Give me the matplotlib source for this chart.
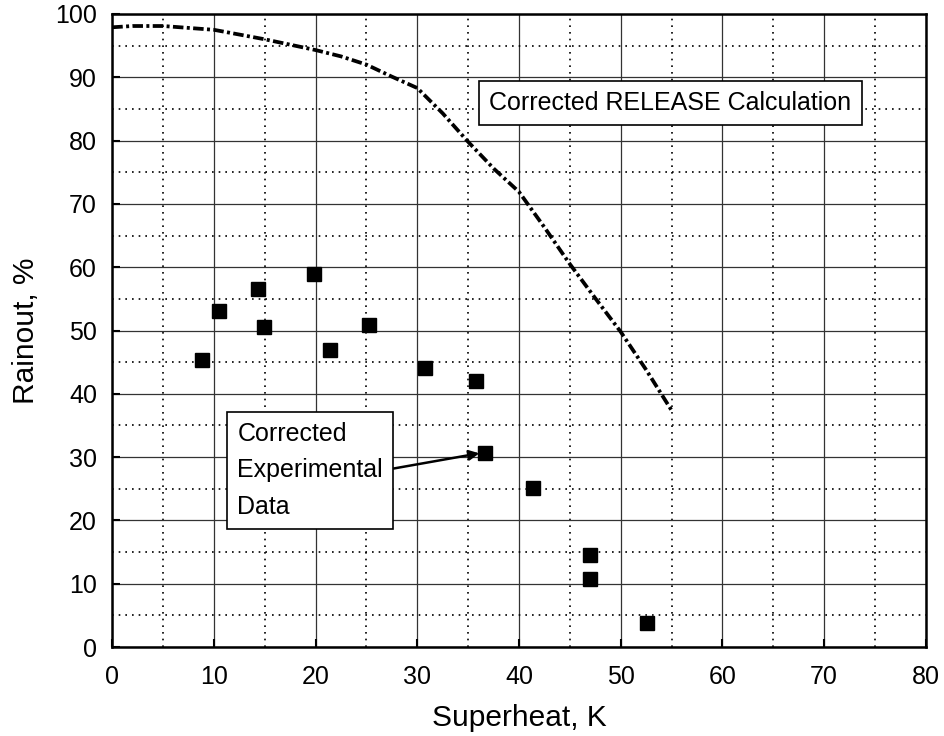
import matplotlib.pyplot as plt

calc_superheat = [0, 2, 5, 10, 15, 20, 22.5, 25, 27.5, 30, 32.5, 35, 37.5, 40,
                  42.5, 45, 47.5, 50, 52.5, 55]
calc_rainout = [97.9, 98.1, 98.1, 97.5, 96.0, 94.3, 93.3, 92.0, 90.1, 88.3, 84.3,
                79.8, 75.6, 71.9, 66.3, 60.5, 55.1, 49.8, 43.8, 37.4]

exp_superheat = [8.8, 10.5, 14.3, 14.9, 19.8, 21.4, 25.2, 30.8, 35.8, 36.7, 41.4, 47.0, 47.0, 52.6]
exp_rainout = [45.3, 53.1, 56.5, 50.5, 58.9, 46.9, 50.9, 44.1, 42.1, 30.7, 25.1, 14.5, 10.7, 3.8]

x_ticks = [0, 10, 20, 30, 40, 50, 60, 70, 80]
y_ticks = [0, 10, 20, 30, 40, 50, 60, 70, 80, 90, 100]


def main():
    plt.rcParams['font.family'] = ['Liberation Sans', 'DejaVu Sans']
    fig = plt.figure(figsize=(9.45, 7.36), dpi=100)
    ax = fig.add_axes([0.1188, 0.1209, 0.8608, 0.8601])

    ax.set_xlim(0, 80)
    ax.set_ylim(0, 100)
    ax.set_xticks(x_ticks)
    ax.set_yticks(y_ticks)
    ax.set_xticks([5, 15, 25, 35, 45, 55, 65, 75], minor=True)
    ax.set_yticks([5, 15, 25, 35, 45, 55, 65, 75, 85, 95], minor=True)

    ax.grid(True, which='major', color='#333333', linewidth=0.9)
    ax.grid(True, which='minor', color='black', linewidth=1.2, linestyle=(0, (1, 3)))
    ax.set_axisbelow(True)

    for spine in ax.spines.values():
        spine.set_linewidth(1.8)
    ax.tick_params(which='major', direction='in', length=6, width=1.5, labelsize=18)
    ax.tick_params(axis='x', which='major', pad=13)
    ax.tick_params(axis='y', which='major', pad=11)
    ax.tick_params(which='minor', length=0)

    line, = ax.plot(calc_superheat, calc_rainout, color='black', linewidth=2.7)
    line.set_dashes([2.8, 0.9, 0.8, 0.9])

    ax.plot(exp_superheat, exp_rainout, linestyle='none', marker='s',
            markersize=10, color='black')

    ax.text(54.9, 85.9, 'Corrected RELEASE Calculation', fontsize=18,
            ha='center', va='center',
            bbox=dict(boxstyle='square,pad=0.4', facecolor='white',
                      edgecolor='black', linewidth=1.2))

    ax.annotate('Corrected\nExperimental\nData', xy=(36.1, 30.6), xytext=(12.3, 27.9),
                fontsize=18, ha='left', va='center', linespacing=1.65,
                bbox=dict(boxstyle='square,pad=0.4', facecolor='white',
                          edgecolor='black', linewidth=1.2),
                arrowprops=dict(arrowstyle='-|>', color='black', linewidth=1.8,
                                mutation_scale=15, relpos=(1, 0.5),
                                shrinkA=0, shrinkB=0))

    ax.set_xlabel('Superheat, K', fontsize=21.5, labelpad=11)
    ax.set_ylabel('Rainout, %', fontsize=21.5, labelpad=11)

    fig.savefig('out.png', dpi=100)


if __name__ == '__main__':
    main()
